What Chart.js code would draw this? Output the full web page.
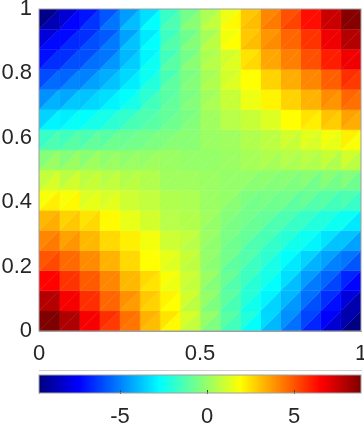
<!DOCTYPE html>
<html>
<head>
<meta charset="utf-8">
<title>Surface</title>
<script src="https://cdn.jsdelivr.net/npm/chart.js@4"></script>
<style>
    html, body { margin: 0; padding: 0; background: #fff; }
    body { width: 364px; height: 423px; position: relative; overflow: hidden; }
    canvas { position: absolute; left: 0; }
    #surface { top: 0; }
    #colorbar { top: 370px; }
</style>
</head>
<body>
<canvas id="surface" width="364" height="370"></canvas>
<canvas id="colorbar" width="364" height="53"></canvas>
<script>
const xEdges = [0, 0.0625, 0.125, 0.1875, 0.25, 0.3125, 0.375, 0.4375, 0.5, 0.5625, 0.625, 0.6875, 0.75, 0.8125, 0.875, 0.9375, 1];
const yEdges = [1, 0.9375, 0.875, 0.8125, 0.75, 0.6875, 0.625, 0.5625, 0.5, 0.4375, 0.375, 0.3125, 0.25, 0.1875, 0.125, 0.0625, 0];

const xTicks = [0, 0.5, 1];
const yTicks = [0, 0.2, 0.4, 0.6, 0.8, 1];
const barTicks = [-5, 0, 5];
const barRange = [-9.66, 8.85];

// one row per grid row from the top, upper-left triangle of each cell
const upperValues = [
    [-9.5, -8.1, -7.0, -5.8, -4.5, -3.3, -1.7, -0.6, 0.4, 1.6, 2.9, 4.1, 5.1, 6.3, 7.5, 8.7],
    [-8.0, -7.2, -6.5, -5.7, -4.4, -3.1, -1.6, -0.7, 0.3, 1.7, 2.9, 3.8, 4.7, 5.6, 6.8, 7.9],
    [-7.1, -6.5, -5.9, -5.2, -4.0, -2.9, -1.5, -0.6, 0.4, 1.1, 2.4, 3.5, 4.2, 5.1, 6.0, 6.8],
    [-6.0, -5.5, -5.0, -4.2, -3.4, -2.5, -1.4, -0.5, 0.3, 1.1, 1.9, 2.7, 3.4, 4.1, 4.8, 5.7],
    [-4.7, -4.3, -3.8, -3.3, -2.7, -1.9, -1.1, -0.5, 0.2, 0.9, 1.6, 2.1, 2.7, 3.3, 4.0, 4.7],
    [-3.5, -3.0, -2.7, -2.3, -1.8, -1.3, -0.9, -0.5, 0.2, 0.6, 0.9, 1.3, 1.9, 2.4, 3.0, 3.6],
    [-1.7, -1.5, -1.3, -1.1, -0.8, -0.6, -0.4, -0.2, 0.1, 0.2, 0.5, 0.7, 1.1, 1.4, 1.7, 2.2],
    [-0.3, -0.3, -0.2, -0.1, -0.1, 0.0, 0.1, 0.0, 0.0, 0.1, 0.3, 0.5, 0.6, 0.7, 0.9, 1.1],
    [0.8, 0.7, 0.7, 0.6, 0.5, 0.5, 0.2, 0.2, 0.1, 0.0, 0.0, -0.1, -0.2, -0.2, -0.2, -0.3],
    [1.8, 1.8, 1.3, 1.2, 1.0, 0.8, 0.5, 0.4, 0.1, 0.0, -0.4, -0.5, -0.6, -0.8, -1.1, -1.3],
    [3.2, 2.7, 2.4, 2.0, 1.5, 1.1, 0.6, 0.5, 0.2, -0.3, -0.6, -0.9, -1.3, -1.7, -2.1, -2.5],
    [4.1, 3.6, 3.2, 2.6, 2.2, 1.7, 1.0, 0.8, 0.1, -0.5, -0.9, -1.4, -2.0, -2.5, -3.2, -3.8],
    [5.0, 4.6, 4.0, 3.3, 2.6, 1.9, 1.5, 0.9, 0.0, -0.6, -1.2, -1.9, -2.7, -3.5, -4.4, -5.2],
    [6.5, 5.6, 4.9, 4.1, 3.2, 2.6, 1.8, 1.0, 0.1, -0.8, -1.6, -2.3, -3.3, -4.5, -5.5, -6.7],
    [7.9, 6.7, 5.7, 4.7, 3.9, 2.9, 2.1, 1.1, 0.0, -1.0, -2.0, -2.9, -4.0, -5.3, -6.5, -8.0],
    [8.9, 8.0, 6.7, 5.7, 4.5, 3.3, 2.4, 1.2, 0.0, -1.1, -2.1, -3.4, -4.7, -6.1, -7.4, -8.8]
];

// same grid, lower-right triangle of each cell
const lowerValues = [
    [-8.7, -7.3, -6.4, -5.2, -3.9, -2.7, -1.3, -0.2, 0.8, 2.0, 3.1, 4.3, 5.3, 6.3, 7.5, 8.7],
    [-7.2, -6.6, -5.9, -5.1, -3.8, -2.7, -1.2, -0.3, 0.7, 1.9, 3.1, 4.0, 4.7, 5.6, 6.8, 7.9],
    [-6.5, -5.9, -5.3, -4.6, -3.6, -2.5, -1.1, -0.2, 0.6, 1.3, 2.6, 3.5, 4.2, 5.1, 6.0, 6.8],
    [-5.4, -4.9, -4.4, -3.8, -3.0, -2.1, -1.0, -0.3, 0.5, 1.3, 1.9, 2.7, 3.4, 4.1, 4.8, 5.5],
    [-4.1, -3.7, -3.4, -2.9, -2.3, -1.5, -0.9, -0.3, 0.4, 0.9, 1.6, 2.1, 2.7, 3.3, 3.8, 4.5],
    [-2.9, -2.6, -2.3, -1.9, -1.4, -1.1, -0.7, -0.3, 0.2, 0.6, 0.9, 1.3, 1.9, 2.2, 2.8, 3.4],
    [-1.3, -1.1, -0.9, -0.7, -0.6, -0.4, -0.2, -0.2, 0.1, 0.2, 0.5, 0.7, 0.9, 1.2, 1.5, 1.8],
    [0.1, 0.1, 0.2, 0.1, 0.1, 0.2, 0.1, 0.0, 0.0, 0.1, 0.3, 0.3, 0.4, 0.5, 0.5, 0.7],
    [1.2, 1.1, 0.9, 0.8, 0.7, 0.5, 0.2, 0.2, 0.1, 0.0, -0.2, -0.3, -0.4, -0.6, -0.6, -0.7],
    [2.2, 2.0, 1.5, 1.4, 1.0, 0.8, 0.5, 0.4, 0.1, -0.2, -0.6, -0.7, -1.0, -1.2, -1.5, -1.7],
    [3.4, 2.9, 2.6, 2.0, 1.5, 1.1, 0.6, 0.5, 0.0, -0.5, -0.8, -1.3, -1.7, -2.1, -2.5, -3.1],
    [4.3, 3.8, 3.2, 2.6, 2.2, 1.7, 1.0, 0.6, -0.1, -0.7, -1.3, -1.8, -2.4, -2.9, -3.8, -4.4],
    [5.2, 4.6, 4.0, 3.3, 2.6, 1.9, 1.3, 0.7, -0.2, -1.0, -1.6, -2.3, -3.1, -4.1, -5.0, -5.8],
    [6.5, 5.6, 4.9, 4.1, 3.2, 2.4, 1.6, 0.8, -0.3, -1.2, -2.0, -2.7, -3.9, -5.1, -6.1, -7.3],
    [7.9, 6.7, 5.7, 4.7, 3.7, 2.7, 1.9, 0.7, -0.4, -1.4, -2.4, -3.5, -4.6, -5.9, -7.1, -8.8],
    [8.9, 8.0, 6.7, 5.5, 4.4, 3.1, 2.0, 0.8, -0.4, -1.5, -2.7, -4.0, -5.3, -6.7, -8.2, -9.6]
];

const jetStops = [
    [0, 0, 127], [0, 0, 255], [0, 127, 255], [0, 255, 255], [127, 255, 127],
    [255, 255, 0], [255, 127, 0], [255, 0, 0], [127, 0, 0]
];

const textColor = "#262626";
const boxColor = "#a0a0a0";
const tickFont = { family: "'Liberation Sans', Arial, sans-serif", size: 22 };

function jetColor(value) {
    const t = Math.min(1, Math.max(0, (value - barRange[0]) / (barRange[1] - barRange[0])));
    const pos = t * (jetStops.length - 1);
    const i = Math.min(jetStops.length - 2, Math.floor(pos));
    const f = pos - i;
    const rgb = jetStops[i].map((c, k) => Math.round(c + (jetStops[i + 1][k] - c) * f));
    return `rgb(${rgb[0]},${rgb[1]},${rgb[2]})`;
}

function triangle(points, value) {
    const color = jetColor(value);
    return {
        data: [...points, points[0]],
        showLine: true,
        fill: "shape",
        backgroundColor: color,
        borderColor: color,
        borderWidth: 0.4,
        borderJoinStyle: "round",
        pointRadius: 0,
        tension: 0
    };
}

const datasets = [];
yEdges.slice(0, -1).forEach((top, r) => {
    const bottom = yEdges[r + 1];
    xEdges.slice(0, -1).forEach((left, c) => {
        const right = xEdges[c + 1];
        datasets.push(triangle([{ x: left, y: top }, { x: right, y: top }, { x: left, y: bottom }], upperValues[r][c]));
        datasets.push(triangle([{ x: right, y: top }, { x: right, y: bottom }, { x: left, y: bottom }], lowerValues[r][c]));
    });
});

// box round the plot area, top and right sides have no axis of their own
const areaBox = {
    id: "areaBox",
    afterDraw(chart) {
        const { ctx, chartArea: a } = chart;
        ctx.save();
        ctx.strokeStyle = boxColor;
        ctx.lineWidth = 1;
        ctx.strokeRect(a.left, a.top, a.right - a.left, a.bottom - a.top);
        ctx.restore();
    }
};

// tick labels may hang over the edge of the page, no room has to be kept for them
function clearPadding(axis) {
    axis.paddingLeft = axis.paddingRight = axis.paddingTop = axis.paddingBottom = 0;
}

new Chart(document.getElementById("surface"), {
    type: "scatter",
    data: { datasets },
    plugins: [areaBox],
    options: {
        responsive: false,
        animation: false,
        events: [],
        layout: { autoPadding: false, padding: { left: 0, right: 3, top: 9, bottom: 0 } },
        plugins: { legend: { display: false }, tooltip: { enabled: false } },
        scales: {
            x: {
                type: "linear",
                min: 0,
                max: 1,
                grid: { drawOnChartArea: false, drawTicks: false },
                border: { color: boxColor, width: 1 },
                ticks: { color: textColor, font: tickFont, padding: 10, maxRotation: 0, autoSkip: false, callback: v => String(v) },
                afterBuildTicks(axis) { axis.ticks = xTicks.map(v => ({ value: v })); },
                afterFit(axis) { axis.height = 39; clearPadding(axis); }
            },
            y: {
                type: "linear",
                min: 0,
                max: 1,
                grid: { drawOnChartArea: false, drawTicks: false },
                border: { color: boxColor, width: 1 },
                ticks: { color: textColor, font: tickFont, padding: 7, autoSkip: false, callback: v => String(v) },
                afterBuildTicks(axis) { axis.ticks = yTicks.map(v => ({ value: v })); },
                afterFit(axis) { axis.width = 39; clearPadding(axis); }
            }
        }
    }
});

function barGradient(context) {
    const area = context.chart.chartArea;
    if (!area) return "#000";
    const gradient = context.chart.ctx.createLinearGradient(area.left, 0, area.right, 0);
    jetStops.forEach((c, i) => {
        gradient.addColorStop(i / (jetStops.length - 1), `rgb(${c[0]},${c[1]},${c[2]})`);
    });
    return gradient;
}

new Chart(document.getElementById("colorbar"), {
    type: "bar",
    data: {
        labels: [""],
        datasets: [{ data: [barRange], backgroundColor: barGradient, barPercentage: 1, categoryPercentage: 1 }]
    },
    plugins: [areaBox],
    options: {
        indexAxis: "y",
        responsive: false,
        animation: false,
        events: [],
        layout: { autoPadding: false, padding: { left: 39, right: 3, top: 5, bottom: 0 } },
        plugins: { legend: { display: false }, tooltip: { enabled: false } },
        scales: {
            x: {
                type: "linear",
                min: barRange[0],
                max: barRange[1],
                grid: { drawOnChartArea: false, tickLength: -3, color: "#444", z: 1 },
                border: { color: boxColor, width: 1 },
                ticks: { color: textColor, font: tickFont, padding: 14, maxRotation: 0, autoSkip: false, callback: v => String(v) },
                afterBuildTicks(axis) { axis.ticks = barTicks.map(v => ({ value: v })); },
                afterFit(axis) { axis.height = 30; clearPadding(axis); }
            },
            y: {
                grid: { display: false },
                border: { color: boxColor, width: 1 },
                ticks: { display: false },
                afterFit(axis) { axis.width = 0; clearPadding(axis); }
            }
        }
    }
});
</script>
</body>
</html>
